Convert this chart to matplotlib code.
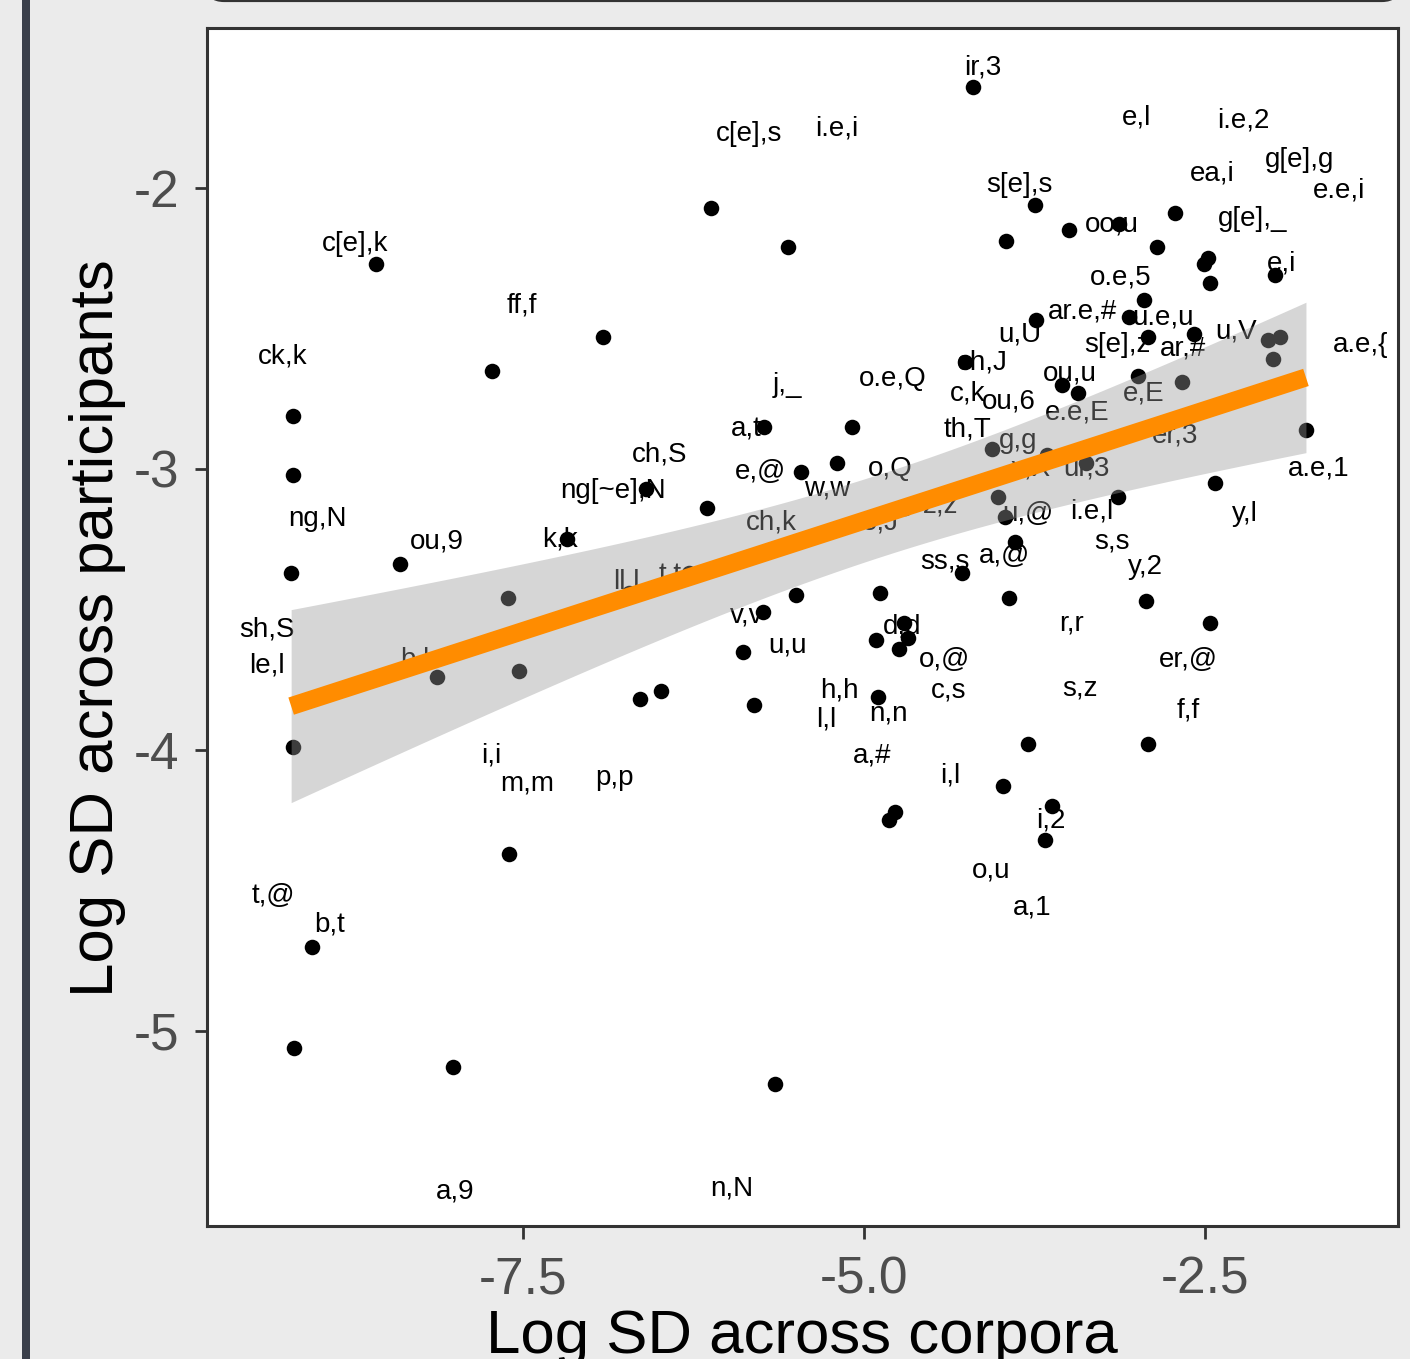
import numpy as np
import matplotlib
matplotlib.use("Agg")
import matplotlib.pyplot as plt
from matplotlib import patches

# grapheme,phoneme pairs: log SD across corpora (x) and across participants (y)
corpora_sd = [-8.58, -6.12, -5.56, -4.20, -3.75, -3.96, -3.50, -3.13, -2.72, -2.85,
              -2.51, -2.48, -2.46, -1.99, -2.95, -3.74, -3.06, -2.92, -2.58, -2.04,
              -1.95, -2.00, -2.99, -2.67, -3.55, -3.43, -1.76, -3.37, -3.66, -4.02,
              -3.97, -3.14, -2.43, -3.89, -3.94, -2.93, -2.46, -3.80, -2.92, -3.98,
              -3.62, -3.67, -4.26, -4.28, -4.06, -6.91, -7.73, -9.19, -9.19, -9.20,
              -8.40, -7.18, -7.61, -6.60, -6.15, -5.73, -5.09, -5.20, -5.46, -5.74,
              -5.50, -4.88, -5.89, -6.64, -6.49, -5.81, -4.91, -4.71, -4.68, -4.74,
              -4.90, -4.77, -4.82, -5.65, -7.53, -8.13, -9.19, -7.60, -9.05, -9.18,
              -8.01, -6.72, -6.28, -4.70, -4.30]
participants_sd = [-2.27, -2.07, -2.21, -1.64, -2.06, -2.19, -2.15, -2.13, -2.09, -2.21,
                   -2.27, -2.25, -2.34, -2.31, -2.40, -2.47, -2.46, -2.53, -2.52, -2.54,
                   -2.53, -2.61, -2.67, -2.69, -2.70, -2.73, -2.86, -2.98, -2.95, -3.10,
                   -3.17, -3.10, -3.05, -3.26, -3.46, -3.47, -3.55, -3.98, -3.98, -4.13,
                   -4.20, -4.32, -2.62, -3.37, -2.93, -2.53, -2.65, -2.81, -3.02, -3.37,
                   -3.34, -3.25, -3.46, -3.07, -3.14, -2.85, -2.85, -2.98, -3.01, -3.51,
                   -3.45, -3.44, -3.65, -3.82, -3.79, -3.84, -3.61, -3.55, -3.60, -3.64,
                   -3.81, -4.22, -4.25, -5.19, -3.72, -3.74, -3.99, -4.37, -4.70, -5.06,
                   -5.13, -3.44, -3.37, -3.14, -3.07]

# repelled label text and where it ended up (data units)
labels = ["ir,3", "c[e],s", "i.e,i", "e,l", "i.e,2", "ea,i", "g[e],g", "e.e,i", "s[e],s", "oo,u",
          "g[e],_", "c[e],k", "e,i", "o.e,5", "ff,f", "ar.e,#", "u.e,u", "u,U", "s[e],z", "ar,#",
          "u,V", "a.e,{", "ck,k", "ch,J", "j,_", "o.e,Q", "c,k", "ou,u", "ou,6", "e.e,E",
          "e,E", "a,t", "th,T", "g,g", "er,3", "ch,S", "e,@", "o,Q", "ur,3", "x,X",
          "a.e,1", "ng[~e],N", "w,w", "ng,N", "ou,9", "k,k", "ch,k", "o,J", "z,z", "u,@",
          "i.e,l", "y,l", "s,s", "ss,s", "a,@", "y,2", "ll,l", "t,t", "v,v", "sh,S",
          "d,d", "r,r", "u,u", "o,@", "er,@", "le,l", "b,b", "h,h", "c,s", "s,z",
          "l,l", "n,n", "f,f", "i,i", "m,m", "p,p", "a,#", "i,l", "i,2", "o,u",
          "a,1", "t,@", "b,t", "a,9", "n,N"]
label_x = [-4.13, -5.84, -5.20, -3.00, -2.22, -2.45, -1.81, -1.52, -3.86, -3.18,
           -2.15, -8.73, -1.94, -3.12, -7.51, -3.40, -2.81, -3.86, -3.14, -2.66,
           -2.27, -1.36, -9.26, -4.13, -5.56, -4.79, -4.24, -3.49, -3.94, -3.44,
           -2.95, -5.86, -4.24, -3.87, -2.72, -6.50, -5.76, -4.81, -3.37, -3.78,
           -1.67, -6.84, -5.27, -9.01, -8.13, -7.23, -5.68, -4.88, -4.44, -3.80,
           -3.33, -2.21, -3.18, -4.41, -3.97, -2.94, -6.74, -6.42, -5.86, -9.38,
           -4.72, -3.48, -5.56, -4.41, -2.62, -9.38, -8.26, -5.18, -4.38, -3.42,
           -5.28, -4.82, -2.62, -7.73, -7.47, -6.83, -4.94, -4.37, -3.63, -4.07,
           -3.77, -9.33, -8.92, -8.00, -5.97]
label_y = [-1.57, -1.81, -1.79, -1.75, -1.76, -1.95, -1.90, -2.01, -1.99, -2.13,
           -2.11, -2.20, -2.27, -2.32, -2.42, -2.44, -2.46, -2.52, -2.56, -2.57,
           -2.51, -2.56, -2.60, -2.62, -2.70, -2.68, -2.73, -2.66, -2.76, -2.80,
           -2.73, -2.86, -2.86, -2.90, -2.88, -2.95, -3.01, -3.00, -3.00, -3.00,
           -3.00, -3.08, -3.07, -3.18, -3.26, -3.25, -3.19, -3.19, -3.13, -3.16,
           -3.15, -3.16, -3.26, -3.33, -3.31, -3.35, -3.40, -3.38, -3.52, -3.57,
           -3.56, -3.55, -3.63, -3.68, -3.68, -3.70, -3.68, -3.79, -3.79, -3.78,
           -3.89, -3.87, -3.86, -4.02, -4.12, -4.10, -4.02, -4.09, -4.25, -4.43,
           -4.56, -4.52, -4.62, -5.57, -5.56]

x_ticks = [-7.5, -5.0, -2.5]
y_ticks = [-2, -3, -4, -5]

FONT = "Liberation Sans"
T_95 = 1.989  # t quantile, df = n - 2


def smooth_lm(x, y, grid):
    """linear fit with 95% confidence band, same as geom_smooth(method='lm')"""
    n = len(x)
    slope, icpt = np.polyfit(x, y, 1)
    resid = y - (slope * x + icpt)
    s = np.sqrt(np.sum(resid ** 2) / (n - 2))
    sxx = np.sum((x - x.mean()) ** 2)
    fit = slope * grid + icpt
    se = s * np.sqrt(1.0 / n + (grid - x.mean()) ** 2 / sxx)
    return fit, fit - T_95 * se, fit + T_95 * se


def main():
    x = np.array(corpora_sd)
    y = np.array(participants_sd)

    fig = plt.figure(figsize=(14.1, 13.59), dpi=100)
    fig.patch.set_facecolor("#EBEBEB")

    # bits of the surrounding page that got cropped in
    fig.add_artist(patches.Rectangle((0.0156, 0), 0.0057, 1, transform=fig.transFigure,
                                     facecolor="#3A3F4A", edgecolor="none"))
    fig.add_artist(patches.FancyBboxPatch((0.147, 1.0), 0.845, 0.05, transform=fig.transFigure,
                                          boxstyle="round,pad=0,rounding_size=0.012",
                                          facecolor="#EBEBEB", edgecolor="#333333", linewidth=3,
                                          clip_on=False))

    ax = fig.add_axes([0.1468, 0.0979, 0.8447, 0.8815])
    ax.set_facecolor("white")

    ax.scatter(x, y, s=125, color="black", linewidths=0, zorder=2)
    for lab, lx, ly in zip(labels, label_x, label_y):
        ax.text(lx, ly, lab, ha="center", va="center", fontsize=20, family=FONT,
                color="black", zorder=3)

    grid = np.linspace(x.min(), x.max(), 100)
    fit, lo, hi = smooth_lm(x, y, grid)
    ax.fill_between(grid, lo, hi, color="#999999", alpha=0.4, linewidth=0, zorder=4)
    ax.plot(grid, fit, color="#FF8C00", linewidth=13, solid_capstyle="butt", zorder=5)

    ax.set_xlim(-9.817, -1.085)
    ax.set_ylim(-5.694, -1.431)
    ax.set_xticks(x_ticks)
    ax.set_xticklabels(["%.1f" % t for t in x_ticks])
    ax.set_yticks(y_ticks)
    ax.set_yticklabels([str(t) for t in y_ticks])
    ax.tick_params(length=9, width=2, color="#333333", labelcolor="#4D4D4D",
                   labelsize=37)
    ax.tick_params(axis="y", pad=11)
    ax.tick_params(axis="x", pad=12)
    for lab in ax.get_xticklabels() + ax.get_yticklabels():
        lab.set_family(FONT)
    for spine in ax.spines.values():
        spine.set_color("#333333")
        spine.set_linewidth(2.2)

    fig.text(0.0688, 0.5379, "Log SD across participants", rotation=90, ha="center",
             va="center", fontsize=44.5, family=FONT, color="black")
    fig.text(0.569, 0.0155, "Log SD across corpora", ha="center", va="center",
             fontsize=44.5, family=FONT, color="black")

    fig.savefig("out.png", dpi=100, facecolor=fig.get_facecolor())


if __name__ == '__main__':
    main()
